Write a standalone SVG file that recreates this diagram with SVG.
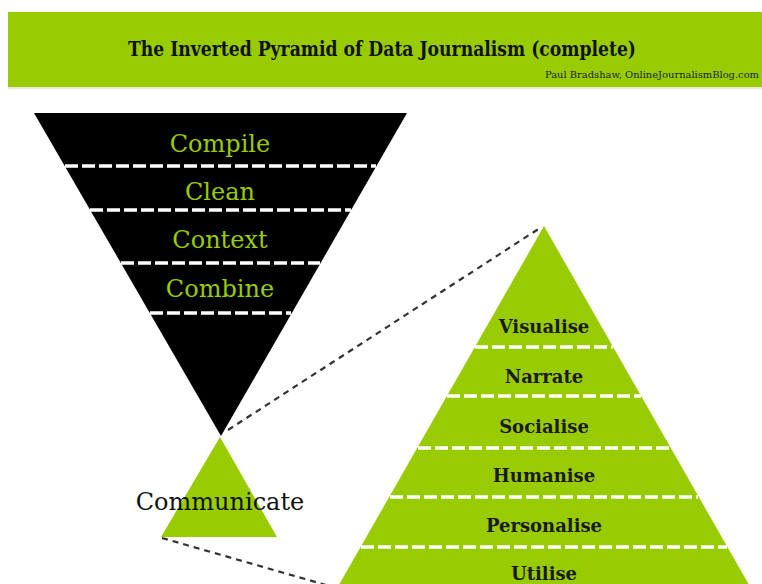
<svg xmlns="http://www.w3.org/2000/svg" width="762" height="584" viewBox="0 0 762 584">
<style>
.green{fill:#99cc00}
.wdash{stroke:#ffffff;stroke-width:3.5;stroke-dasharray:13 4;fill:none}
.conn{stroke:#333333;stroke-width:2.2;stroke-dasharray:6 5;fill:none}
.lab{font-family:"DejaVu Serif","Liberation Serif",serif;font-size:24px;fill:#99cc00;text-anchor:middle}
.blab{font-family:"DejaVu Serif","Liberation Serif",serif;font-size:18px;font-weight:bold;fill:#1a1a1a;text-anchor:middle}
</style>
<rect width="762" height="584" fill="#ffffff"/>
<g id="header">
<rect x="8" y="12" width="754" height="75" class="green"/>
<line x1="8" y1="88" x2="762" y2="88" stroke="#e4e8dc" stroke-width="2"/>
<text x="128" y="56" font-family="DejaVu Serif, serif" font-size="20" font-weight="bold" fill="#111111" textLength="508" lengthAdjust="spacingAndGlyphs">The Inverted Pyramid of Data Journalism (complete)</text>
<text x="545" y="78" font-family="DejaVu Serif, serif" font-size="10" fill="#222222" textLength="214" lengthAdjust="spacingAndGlyphs">Paul Bradshaw, OnlineJournalismBlog.com</text>
</g>
<g id="connectors">
<line x1="228" y1="430" x2="540" y2="228" class="conn"/>
<line x1="162" y1="538" x2="340" y2="589" class="conn"/>
</g>
<g id="inverted-pyramid">
<polygon points="34,113 407,113 221,436" fill="#000000"/>
<line x1="65" y1="166" x2="376" y2="166" class="wdash"/>
<line x1="90" y1="210" x2="351" y2="210" class="wdash"/>
<line x1="121" y1="263" x2="320" y2="263" class="wdash"/>
<line x1="150" y1="313" x2="291" y2="313" class="wdash"/>
<text x="220" y="152" class="lab">Compile</text>
<text x="220" y="200" class="lab">Clean</text>
<text x="220" y="248" class="lab">Context</text>
<text x="220" y="297" class="lab">Combine</text>
</g>
<g id="communicate">
<polygon points="220,437 161,537 277,537" class="green"/>
<text x="220" y="510" font-family="DejaVu Serif, serif" font-size="24" fill="#111111" text-anchor="middle">Communicate</text>
</g>
<g id="communicate-pyramid">
<polygon points="544,226 336,590 752,590" class="green"/>
<line x1="475" y1="347" x2="613" y2="347" class="wdash"/>
<line x1="447" y1="396" x2="641" y2="396" class="wdash"/>
<line x1="418" y1="448" x2="670" y2="448" class="wdash"/>
<line x1="390" y1="497" x2="698" y2="497" class="wdash"/>
<line x1="361" y1="547" x2="727" y2="547" class="wdash"/>
<text x="544" y="333" class="blab">Visualise</text>
<text x="544" y="383" class="blab">Narrate</text>
<text x="544" y="433" class="blab">Socialise</text>
<text x="544" y="482" class="blab">Humanise</text>
<text x="544" y="532" class="blab">Personalise</text>
<text x="544" y="580" class="blab">Utilise</text>
</g>
</svg>
